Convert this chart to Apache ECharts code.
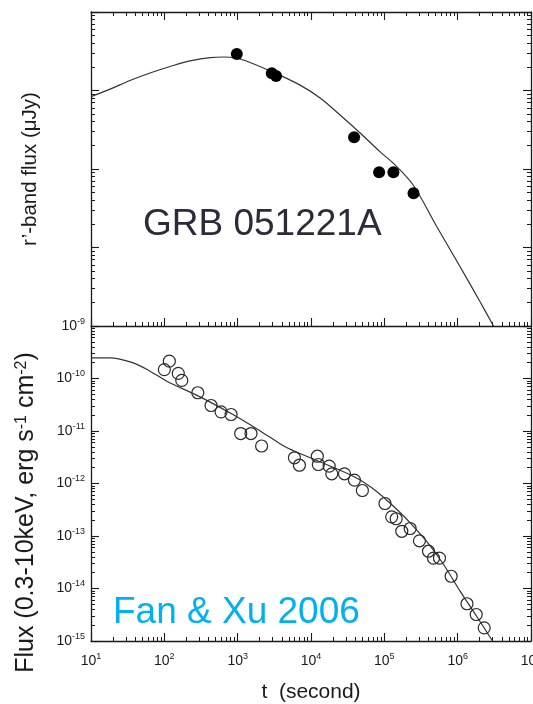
<!DOCTYPE html>
<html>
<head>
<meta charset="utf-8">
<script src="https://cdn.jsdelivr.net/npm/echarts@6/dist/echarts.min.js"></script>
<style>
  html, body { margin: 0; padding: 0; background: #ffffff; }
  #chart { width: 533px; height: 704px; }
</style>
</head>
<body>
<div id="chart"></div>
<script>
// ---- r'-band optical light curve (time in s, flux in µJy) ----
const opticalTime = [973, 2920, 3340, 38700, 84900, 133000, 250000];
const opticalFlux = [29.2, 16.6, 15.3, 2.54, 0.908, 0.908, 0.49];

// model fit for the optical band
const opticalModelTime = [10, 18.2, 34, 63.8, 120, 224, 420, 673, 1080, 2920, 7100, 13300, 24900,
  46800, 87700, 140000, 247000, 520000, 1080000, 2030000, 3080000];
const opticalModelFlux = [8.34, 10.4, 13.4, 16.7, 20.2, 23.8, 26.3, 26.7, 25.2, 17.4, 11.7, 8.02, 4.88,
  2.88, 1.65, 1.13, 0.625, 0.184, 0.0569, 0.0202, 0.0100];

// ---- X-ray light curve (0.3-10 keV flux in erg s^-1 cm^-2) ----
const xrayTime = [100, 117, 155, 173, 286, 434, 594, 813, 1100, 1520, 2120, 5940, 6950, 12200, 12600,
  17700, 19200, 28600, 39100, 50200, 102000, 126000, 145000, 173000, 225000, 301000, 400000, 468000,
  565000, 815000, 1340000, 1790000, 2300000];
const xrayFlux = [1.48e-10, 2.14e-10, 1.25e-10, 9.2e-11, 5.35e-11, 3.06e-11, 2.32e-11, 2.06e-11, 8.95e-12,
  8.95e-12, 5.18e-12, 3.09e-12, 2.23e-12, 3.31e-12, 2.30e-12, 2.14e-12, 1.53e-12, 1.53e-12, 1.16e-12,
  7.36e-13, 4.16e-13, 2.32e-13, 2.13e-13, 1.23e-13, 1.39e-13, 8.1e-14, 5.13e-14, 3.78e-14, 3.78e-14,
  1.71e-14, 5.12e-15, 3.2e-15, 1.78e-15];

// model fit for the X-ray band
const xrayModelTime = [10, 18.2, 37.4, 63.8, 108, 307, 873, 1730, 2770, 4880, 14000, 40000, 67500,
  114000, 164000, 225000, 380000, 640000, 1080000, 1830000, 2960000];
const xrayModelFlux = [2.48e-10, 2.48e-10, 1.99e-10, 1.38e-10, 8.89e-11, 4.47e-11, 2.04e-11, 1.15e-11,
  7.59e-12, 4.68e-12, 2.51e-12, 1.32e-12, 8.28e-13, 4.5e-13, 2.8e-13, 1.78e-13, 7.8e-14, 2.9e-14,
  8.9e-15, 2.9e-15, 1.02e-15];

// ---- axis decades (tick labels) ----
const timeDecades = [1e1, 1e2, 1e3, 1e4, 1e5, 1e6, 1e7];
const opticalDecades = [1e-2, 1e-1, 1e0, 1e1, 1e2];
const xrayDecades = [1e-15, 1e-14, 1e-13, 1e-12, 1e-11, 1e-10, 1e-9];

// ---- styling ----
const FONT = "'Liberation Sans', Arial, Helvetica, sans-serif";
const INK = '#1a1a1a';
const MAJOR_LEN = 8;
const MINOR_LEN = 4;

function zip(xs, ys) { return xs.map((x, i) => [x, ys[i]]); }

// log-spaced minor ticks (2..9 within each decade)
function minorTicks(decades) {
  const out = [];
  for (let i = 0; i < decades.length - 1; i++) {
    for (let k = 2; k <= 9; k++) out.push(k * decades[i]);
  }
  return out;
}

const powRich = {
  b: { fontSize: 14, lineHeight: 18, fontFamily: FONT, color: INK },
  s: { fontSize: 9, lineHeight: 10, fontFamily: FONT, color: INK, verticalAlign: 'top' }
};
function powerLabel(v) {
  const e = Math.round(Math.log10(v));
  return '{b|10}{s|' + e + '}';
}

// builds one axis; minor=true gives a line-less companion that only carries minor ticks
function makeAxis(opts) {
  const decades = opts.decades;
  const base = {
    type: 'log',
    logBase: 10,
    gridIndex: opts.grid,
    position: opts.position,
    min: decades[0],
    max: decades[decades.length - 1],
    splitLine: { show: false },
    axisLine: { show: !opts.minor, onZero: false, lineStyle: { color: INK, width: 1.3 } },
    axisTick: opts.minor
      ? { show: true, inside: true, length: MINOR_LEN, customValues: minorTicks(decades), lineStyle: { color: INK, width: 1 } }
      : { show: true, inside: true, length: MAJOR_LEN, lineStyle: { color: INK, width: 1.1 } },
    axisLabel: { show: false },
    silent: true
  };
  if (opts.labels && !opts.minor) {
    base.axisLabel = {
      show: true,
      formatter: powerLabel,
      rich: powRich,
      margin: opts.labelMargin,
      showMinLabel: true,
      showMaxLabel: true
    };
  }
  if (opts.name && !opts.minor) Object.assign(base, opts.name);
  return base;
}

const xAxes = [];
const yAxes = [];
function addX(o) { xAxes.push(makeAxis(o)); return xAxes.length - 1; }
function addY(o) { yAxes.push(makeAxis(o)); return yAxes.length - 1; }

// top panel (optical)
const xTop = addX({ grid: 0, position: 'bottom', decades: timeDecades });
addX({ grid: 0, position: 'bottom', decades: timeDecades, minor: true });
addX({ grid: 0, position: 'top', decades: timeDecades });
addX({ grid: 0, position: 'top', decades: timeDecades, minor: true });
const yTop = addY({
  grid: 0, position: 'left', decades: opticalDecades,
  name: {
    name: 'r\u2019-band flux (\u03bcJy)',
    nameLocation: 'middle',
    nameGap: 50,
    nameTextStyle: { fontSize: 20.5, fontFamily: FONT, color: INK }
  }
});
addY({ grid: 0, position: 'left', decades: opticalDecades, minor: true });
addY({ grid: 0, position: 'right', decades: opticalDecades });
addY({ grid: 0, position: 'right', decades: opticalDecades, minor: true });

// bottom panel (X-ray)
const xBot = addX({
  grid: 1, position: 'bottom', decades: timeDecades, labels: true, labelMargin: 11,
  name: {
    name: 't  (second)',
    nameLocation: 'middle',
    nameGap: 41,
    nameTextStyle: { fontSize: 21, fontFamily: FONT, color: INK }
  }
});
addX({ grid: 1, position: 'bottom', decades: timeDecades, minor: true });
const yBot = addY({
  grid: 1, position: 'left', decades: xrayDecades, labels: true, labelMargin: 6,
  name: {
    name: 'Flux (0.3-10keV, erg s{s|-1} cm{s|-2})',
    nameLocation: 'middle',
    nameGap: 52,
    nameTextStyle: {
      fontSize: 25, fontFamily: FONT, color: INK,
      padding: [0, 58, 0, 0],
      rich: { s: { fontSize: 16, lineHeight: 16, fontFamily: FONT, color: INK, verticalAlign: 'top' } }
    }
  }
});
addY({ grid: 1, position: 'left', decades: xrayDecades, minor: true });
addY({ grid: 1, position: 'right', decades: xrayDecades });
addY({ grid: 1, position: 'right', decades: xrayDecades, minor: true });

const chart = echarts.init(document.getElementById('chart'), null, { renderer: 'canvas' });

chart.setOption({
  backgroundColor: '#ffffff',
  animation: false,
  grid: [
    { left: 91, right: 2, top: 12, height: 314, outerBoundsMode: 'none', containLabel: false },
    { left: 91, right: 2, top: 326, height: 315, outerBoundsMode: 'none', containLabel: false }
  ],
  xAxis: xAxes,
  yAxis: yAxes,
  series: [
    {
      name: 'optical model',
      type: 'line',
      xAxisIndex: xTop, yAxisIndex: yTop,
      data: zip(opticalModelTime, opticalModelFlux),
      showSymbol: false,
      smooth: 0.35,
      lineStyle: { color: '#333333', width: 1.2 },
      z: 2
    },
    {
      name: 'optical data',
      type: 'scatter',
      xAxisIndex: xTop, yAxisIndex: yTop,
      data: zip(opticalTime, opticalFlux),
      symbol: 'circle',
      symbolSize: 12,
      itemStyle: { color: '#000000', opacity: 1 },
      z: 3
    },
    {
      name: 'x-ray model',
      type: 'line',
      xAxisIndex: xBot, yAxisIndex: yBot,
      data: zip(xrayModelTime, xrayModelFlux),
      showSymbol: false,
      smooth: 0.35,
      lineStyle: { color: '#333333', width: 1.2 },
      z: 2
    },
    {
      name: 'x-ray data',
      type: 'scatter',
      xAxisIndex: xBot, yAxisIndex: yBot,
      data: zip(xrayTime, xrayFlux),
      symbol: 'circle',
      symbolSize: 12,
      itemStyle: { color: 'rgba(0,0,0,0)', borderColor: '#2a2a2a', borderWidth: 1.2, opacity: 1 },
      z: 3
    }
  ],
  graphic: [
    {
      type: 'text',
      left: 143, top: 206,
      style: { text: 'GRB 051221A', font: '37px ' + FONT, fill: '#2b2b3a' },
      silent: true
    },
    {
      type: 'text',
      left: 113, top: 594,
      style: { text: 'Fan & Xu 2006', font: '37px ' + FONT, fill: '#00b0f0' },
      silent: true
    }
  ]
});
</script>
</body>
</html>
